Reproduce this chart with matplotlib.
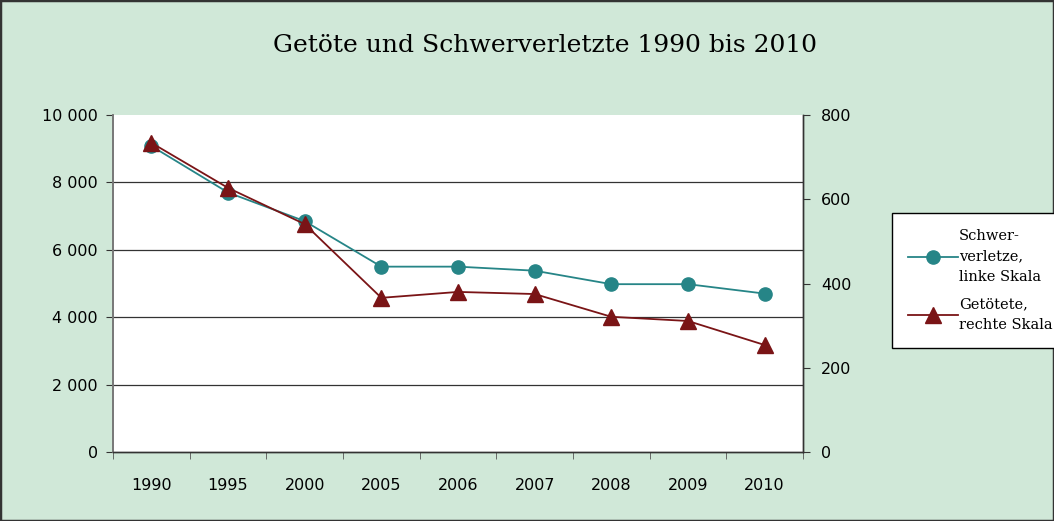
import matplotlib
matplotlib.use("Agg")
import matplotlib.pyplot as plt
from matplotlib.patches import Rectangle
import numpy as np

years = ["1990", "1995", "2000", "2005", "2006", "2007", "2008", "2009", "2010"]
schwerverletzte = [9080, 7700, 6850, 5500, 5500, 5380, 4980, 4980, 4700]
getoetete = [734, 627, 541, 366, 380, 375, 321, 311, 254]
left_ticks = [0, 2000, 4000, 6000, 8000, 10000]
left_labels = ["0", "2 000", "4 000", "6 000", "8 000", "10 000"]
right_ticks = [0, 200, 400, 600, 800]

teal = "#268587"
darkred = "#7a1416"
bg = "#d0e8d8"

fig = plt.figure(figsize=(10.54, 5.21), dpi=100, facecolor=bg)
ax = fig.add_axes([113/1054, 69/521, 690/1054, 337/521])
ax.set_facecolor("white")
x = np.arange(len(years))

ax.set_xlim(-0.5, len(years) - 0.5)
ax.set_ylim(0, 10000)
for t in left_ticks[1:-1]:
    ax.axhline(t, color="#333333", lw=0.9, zorder=1)

l1, = ax.plot(x, schwerverletzte, color=teal, lw=1.3, marker="o", ms=9.5,
              markeredgecolor=teal, markerfacecolor=teal, zorder=3,
              label="Schwer-\nverletze,\nlinke Skala")
ax2 = ax.twinx()
ax2.set_ylim(0, 800)
l2, = ax2.plot(x, getoetete, color=darkred, lw=1.3, marker="^", ms=11,
               markeredgecolor=darkred, markerfacecolor=darkred, zorder=4,
               label="Getötete,\nrechte Skala")

ax.set_yticks(left_ticks)
ax.set_yticklabels(left_labels)
ax2.set_yticks(right_ticks)
ax.set_xticks(x)
ax.set_xticklabels(years)
ax.set_xticks(np.arange(-0.5, len(years)), minor=True)
ax.tick_params(axis="x", which="major", length=0, pad=19, labelsize=11.5)
ax.tick_params(axis="x", which="minor", length=5, color="#555555")
ax.tick_params(axis="y", length=5, labelsize=11.5, color="#333333", pad=6)
ax2.tick_params(axis="y", length=5, labelsize=11.5, color="#333333", pad=8)

for a in (ax, ax2):
    a.spines["top"].set_visible(False)
    a.spines["left"].set_color("#777777")
    a.spines["right"].set_color("#333333")
    a.spines["bottom"].set_color("#333333")
    a.spines["left"].set_linewidth(1.2)
    a.spines["right"].set_linewidth(1.0)
    a.spines["bottom"].set_linewidth(1.0)

fig.text(0.517, 1 - 45/521, "Getöte und Schwerverletzte 1990 bis 2010",
         ha="center", va="center", fontsize=18, family="DejaVu Serif")

leg = fig.legend(handles=[l1, l2], loc="upper left",
                 bbox_to_anchor=(892/1054, 1 - 213/521),
                 frameon=True, fancybox=False, edgecolor="black",
                 facecolor="white", framealpha=1,
                 prop={"family": "DejaVu Serif", "size": 10.5},
                 handlelength=3.4, handletextpad=0.1, labelspacing=0.9,
                 borderpad=1.1, borderaxespad=0)
leg.get_frame().set_linewidth(1.0)
for t in leg.get_texts():
    t.set_linespacing(1.6)

fig.patches.append(Rectangle((0, 0), 1, 1, transform=fig.transFigure,
                             fill=False, edgecolor="#333333", lw=2.5))

fig.savefig("out.png", dpi=100, facecolor=bg)
